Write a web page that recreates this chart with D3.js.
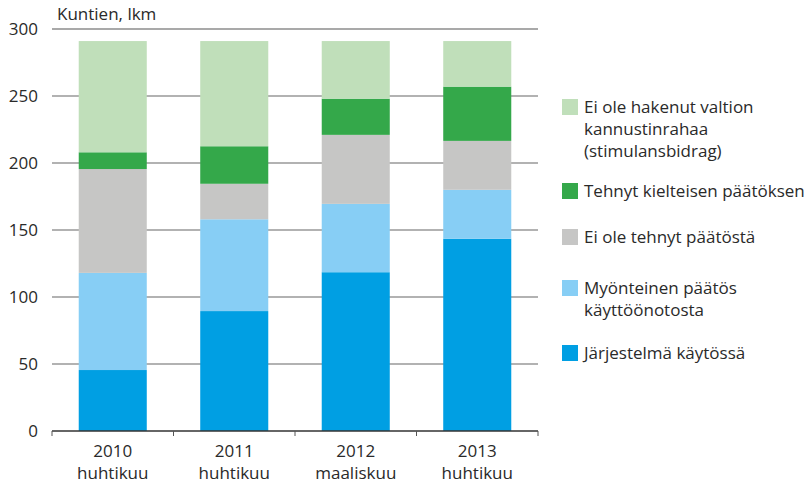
<!DOCTYPE html>
<html>
<head>
<meta charset="utf-8">
<script src="https://cdn.jsdelivr.net/npm/d3@7"></script>
<style>
  html, body { margin: 0; padding: 0; background: #fff; }
  svg { display: block; font-family: "Open Sans", "Noto Sans", sans-serif; }
</style>
</head>
<body>
<svg id="chart" width="809" height="489"></svg>
<script>
// Periods on the x axis (year + month)
const years = ["2010", "2011", "2012", "2013"];
const months = ["huhtikuu", "huhtikuu", "maaliskuu", "huhtikuu"];

// Series, stacked bottom to top
const seriesNames = [
  "Järjestelmä käytössä",
  "Myönteinen päätös käyttöönotosta",
  "Ei ole tehnyt päätöstä",
  "Tehnyt kielteisen päätöksen",
  "Ei ole hakenut valtion kannustinrahaa (stimulansbidrag)"
];
const kaytossa   = [45.5, 89.5, 118.5, 143.5];
const myonteinen = [72.5, 68.5, 51,    36.5];
const eiPaatosta = [77.5, 26.5, 51.5,  36.5];
const kielteinen = [12.5, 28,   27,    40.5];
const eiHakenut  = [83,   78.5, 43,    34];

const yTicks = [0, 50, 100, 150, 200, 250, 300];

// Legend lines (top to bottom), each entry refers to a series index
const legendItems = [
  { s: 4, lines: ["Ei ole hakenut valtion", "kannustinrahaa", "(stimulansbidrag)"] },
  { s: 3, lines: ["Tehnyt kielteisen päätöksen"] },
  { s: 2, lines: ["Ei ole tehnyt päätöstä"] },
  { s: 1, lines: ["Myönteinen päätös", "käyttöönotosta"] },
  { s: 0, lines: ["Järjestelmä käytössä"] }
];

const colors = ["#009fe3", "#87cef5", "#c6c6c5", "#34a84a", "#c0dfba"];
const textColor = "#2a2a2a";

const svg = d3.select("#chart");
const margin = { left: 52, right: 271, top: 29, bottom: 58 };
const W = 809, H = 489;
const plotR = W - margin.right;
const plotB = H - margin.bottom;

const x = d3.scaleBand().domain(years).range([margin.left, plotR]).paddingInner(0.44).paddingOuter(0.22);
const y = d3.scaleLinear().domain([0, 300]).range([plotB, margin.top]);

// Gridlines
svg.append("g").selectAll("line")
  .data(yTicks.filter(t => t > 0))
  .join("line")
  .attr("x1", margin.left).attr("x2", plotR)
  .attr("y1", d => y(d)).attr("y2", d => y(d))
  .attr("stroke", d => d === 300 ? "#8c8c8c" : "#666")
  .attr("stroke-width", d => d === 300 ? 1.6 : 1.2);

// Y tick labels
svg.append("g").selectAll("text")
  .data(yTicks)
  .join("text")
  .attr("x", 38).attr("y", d => y(d))
  .attr("dy", "0.36em")
  .attr("text-anchor", "end")
  .attr("font-size", 17)
  .attr("fill", textColor)
  .text(d => d);

// Unit label
svg.append("text")
  .attr("x", 57).attr("y", 20)
  .attr("font-size", 17).attr("fill", textColor)
  .text("Kuntien, lkm");

// Stacked bars
const rows = years.map((yr, i) => ({
  year: yr,
  s0: kaytossa[i], s1: myonteinen[i], s2: eiPaatosta[i], s3: kielteinen[i], s4: eiHakenut[i]
}));
const stack = d3.stack().keys(["s0", "s1", "s2", "s3", "s4"])(rows);

svg.append("g").selectAll("g")
  .data(stack)
  .join("g")
  .attr("fill", (d, i) => colors[i])
  .selectAll("rect")
  .data(d => d)
  .join("rect")
  .attr("x", d => x(d.data.year))
  .attr("width", x.bandwidth())
  .attr("y", d => y(d[1]))
  .attr("height", d => y(d[0]) - y(d[1]));

// X axis baseline and ticks at band boundaries
const bounds = d3.range(years.length + 1).map(i => margin.left + i * (plotR - margin.left) / years.length);
svg.append("line")
  .attr("x1", margin.left).attr("x2", plotR)
  .attr("y1", plotB).attr("y2", plotB)
  .attr("stroke", "#333").attr("stroke-width", 1.3);
svg.append("g").selectAll("line")
  .data(bounds)
  .join("line")
  .attr("x1", d => d).attr("x2", d => d)
  .attr("y1", plotB).attr("y2", plotB + 5)
  .attr("stroke", "#555").attr("stroke-width", 1);

// X labels
const xl = svg.append("g").selectAll("g")
  .data(years)
  .join("g")
  .attr("transform", d => `translate(${x(d) + x.bandwidth() / 2},0)`);
xl.append("text").attr("y", 457).attr("text-anchor", "middle")
  .attr("font-size", 17).attr("fill", textColor).text(d => d);
xl.append("text").attr("y", 479).attr("text-anchor", "middle")
  .attr("font-size", 17).attr("fill", textColor).text((d, i) => months[i]);

// Legend
const legendTops = [99, 183, 229, 280, 345];
const lg = svg.append("g");
legendItems.forEach((item, k) => {
  const top = legendTops[k];
  lg.append("rect")
    .attr("x", 562).attr("y", top)
    .attr("width", 16).attr("height", 16)
    .attr("fill", colors[item.s]);
  item.lines.forEach((ln, j) => {
    lg.append("text")
      .attr("x", 584).attr("y", top + 14 + j * 22)
      .attr("font-size", 17).attr("fill", textColor)
      .text(ln);
  });
});
</script>
</body>
</html>
